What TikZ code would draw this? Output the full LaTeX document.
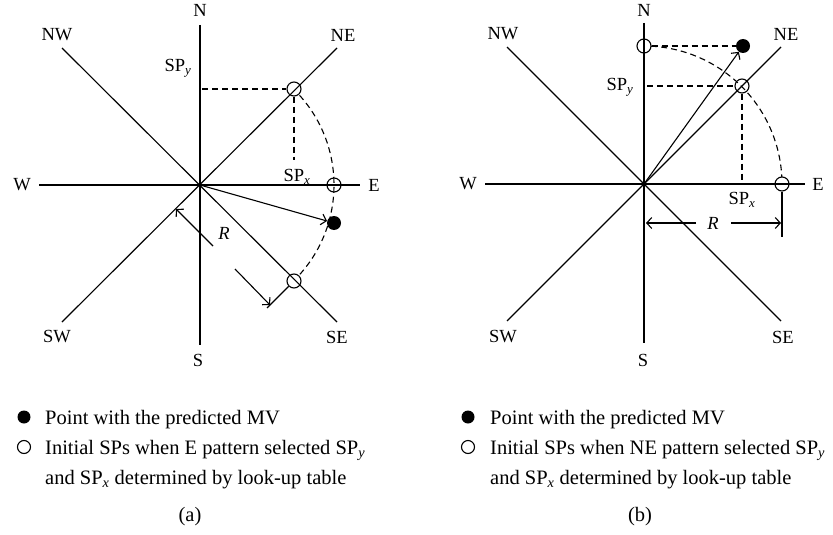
\documentclass[tikz,border=0pt]{standalone}
\usepackage{fontspec}
\setmainfont{Liberation Serif}
\usetikzlibrary{arrows.meta}
\begin{document}
\begin{tikzpicture}[x=1pt,y=-1pt,
  font=\fontsize{18.5}{22}\selectfont,
  ax/.style={line width=1.15pt},
  dsh/.style={line width=1.1pt,dash pattern=on 6pt off 4pt},
  sp/.style={circle,draw,line width=1.1pt,minimum size=14pt,inner sep=0pt},
  mv/.style={circle,fill,minimum size=14pt,inner sep=0pt},
  arr/.style={line width=1.1pt,-{Straight Barb[length=5pt,width=11pt]}},
  lbl/.style={inner sep=0pt},
  leg/.style={anchor=base west,inner sep=0pt,font=\fontsize{20.5}{24}\selectfont},
]
\useasboundingbox (0,0) rectangle (833,535);

% ---------------- panel (a) ----------------
\coordinate (aO) at (200,185);
\coordinate (aN) at (200,25);  \coordinate (aS) at (200,345);
\coordinate (aW) at (39,185);  \coordinate (aE) at (360,185);
\coordinate (aNW) at (62,48);  \coordinate (aSE) at (337,322);
\coordinate (aNE) at (337,48); \coordinate (aSW) at (62,322);
\draw[ax] (aN) -- (aS);
\draw[ax] (aW) -- (aE);
\draw[ax] (aNW) -- (aSE);
\draw[ax] (aNE) -- (aSW);

\node[lbl] (laN) at (200,10) {N};
\node[lbl] (laS) at (198,360) {S};
\node[lbl] (laW) at (22,185) {W};
\node[lbl] (laE) at (374,185) {E};
\node[lbl] (laNW) at (57,35) {NW};
\node[lbl] (laNE) at (343,35) {NE};
\node[lbl] (laSW) at (57,337) {SW};
\node[lbl] (laSE) at (337,337) {SE};

\node[sp] (a-ne) at (294,89) {};
\node[sp] (a-e) at (334,185) {};
\node[sp] (a-se) at (294,281) {};
\node[mv] (a-mv) at (334,223) {};

\coordinate (aYs) at (202,89);
\coordinate (aXe) at (294,160);
\draw[dsh] (aYs) -- (a-ne.west);
\draw[dsh] (a-ne.south) -- (aXe);
\draw[dsh] (aO) ++(-42:134) arc[start angle=-42,end angle=42,radius=134];

\node[lbl] (aSPy) at (178,68) {SP\textsubscript{\itshape y}};
\node[lbl] (aSPx) at (297,177) {SP\textsubscript{\itshape x}};

\draw[arr] (aO) -- (a-mv);

% R dimension (a)
\coordinate (aR1) at (213,246);
\coordinate (aR1e) at (176,209);
\coordinate (aR2) at (235,269);
\coordinate (aR2e) at (270,305);
\coordinate (aTk) at (267,308);
\draw[arr] (aR1) -- (aR1e);
\draw[arr] (aR2) -- (aR2e);
\draw[ax] (a-se.south west) -- (aTk);
\node[lbl] (aR) at (224,233) {\itshape R};

% legend (a)
\node[mv,minimum size=13pt] (a-lb1) at (24,417) {};
\node[leg] (a-lt1) at (45,424) {Point with the predicted MV};
\node[sp,minimum size=13pt] (a-lb2) at (24,447) {};
\node[leg] (a-lt2) at (45,454) {Initial SPs when E pattern selected SP\textsubscript{\itshape y}};
\node[leg] (a-lt3) at (45,484) {and SP\textsubscript{\itshape x} determined by look-up table};
\node[lbl,font=\fontsize{20.5}{24}\selectfont] (a-cap) at (190,517) {(a)};

% ---------------- panel (b) ----------------
\coordinate (bO) at (644,184);
\coordinate (bN) at (644,23);  \coordinate (bS) at (644,343);
\coordinate (bW) at (485,184); \coordinate (bE) at (805,184);
\coordinate (bNW) at (507,47); \coordinate (bSE) at (781,321);
\coordinate (bNE) at (781,47); \coordinate (bSW) at (507,321);
\draw[ax] (bN) -- (bS);
\draw[ax] (bW) -- (bE);
\draw[ax] (bNW) -- (bSE);
\draw[ax] (bNE) -- (bSW);
\fill (bO) circle (1.6);

\node[lbl] (lbN) at (644,10) {N};
\node[lbl] (lbS) at (643,360) {S};
\node[lbl] (lbW) at (468,184) {W};
\node[lbl] (lbE) at (818,184) {E};
\node[lbl] (lbNW) at (503,34) {NW};
\node[lbl] (lbNE) at (786,34) {NE};
\node[lbl] (lbSW) at (503,337) {SW};
\node[lbl] (lbSE) at (783,337) {SE};

\node[sp] (b-n) at (644,46) {};
\node[sp] (b-ne) at (742,86) {};
\node[sp] (b-e) at (782,184) {};
\node[mv] (b-mv) at (743,46) {};

\coordinate (bYs) at (647,86);
\coordinate (bXe) at (742,184);
\draw[dsh] (b-n.east) -- (b-mv.west);
\draw[dsh] (bYs) -- (b-ne.west);
\draw[dsh] (b-ne.south) -- (bXe);
\draw[dsh] (bO) ++(-87:138) arc[start angle=-87,end angle=-3,radius=138];

\node[lbl] (bSPy) at (620,87) {SP\textsubscript{\itshape y}};
\node[lbl] (bSPx) at (742,200) {SP\textsubscript{\itshape x}};

\draw[arr] (bO) -- (b-mv);

% R dimension (b)
\coordinate (bR1) at (696,223);
\coordinate (bR1e) at (646,223);
\coordinate (bR2) at (731,223);
\coordinate (bR2e) at (781,223);
\coordinate (bTk) at (782,237);
\draw[arr] (bR1) -- (bR1e);
\draw[arr] (bR2) -- (bR2e);
\draw[ax] (b-e.south) -- (bTk);
\node[lbl] (bR) at (713,223) {\itshape R};

% legend (b)
\node[mv,minimum size=13pt] (b-lb1) at (468,417) {};
\node[leg] (b-lt1) at (490,424) {Point with the predicted MV};
\node[sp,minimum size=13pt] (b-lb2) at (468,447) {};
\node[leg] (b-lt2) at (490,454) {Initial SPs when NE pattern selected SP\textsubscript{\itshape y}};
\node[leg] (b-lt3) at (490,484) {and SP\textsubscript{\itshape x} determined by look-up table};
\node[lbl,font=\fontsize{20.5}{24}\selectfont] (b-cap) at (640,517) {(b)};
\end{tikzpicture}
\end{document}
